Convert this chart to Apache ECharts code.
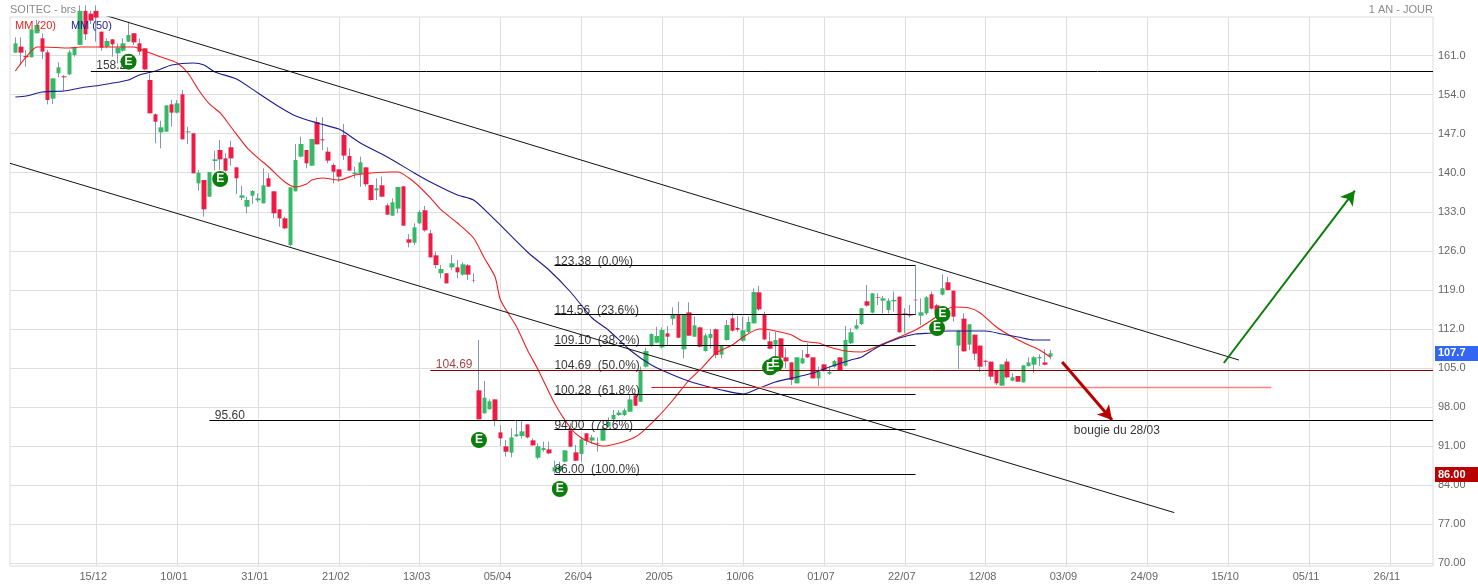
<!DOCTYPE html>
<html><head><meta charset="utf-8">
<style>html,body{margin:0;padding:0;background:#fff}#c{width:1478px;height:587px}</style>
<script src="https://cdn.jsdelivr.net/npm/echarts@6/dist/echarts.min.js"></script>
</head><body><div id="c"></div>
<script>
const tickLabels=['15/12','10/01','31/01','21/02','13/03','05/04','26/04','20/05','10/06','01/07','22/07','12/08','03/09','24/09','15/10','05/11','26/11'];
const yTicks=[70,77,84,91,98,105,112,119,126,133,140,147,154,161];
// trading-day candles, first one on slot 1: open, close, low, high
const ohlc=[
[161.51,163.18,161.51,164.26],[162.59,161.51,159.30,164.26],[160.91,160.68,159.0,161.99],[160.68,165.69,160.68,165.69],[164.98,166.47,164.98,167.37],
[164.08,161.69,160.32,164.98],[161.57,153.03,152.25,161.99],[153.27,156.91,152.31,156.91],[157.81,158.88,157.09,159.78],[157.27,157.09,154.70,157.51],
[157.63,161.57,157.51,161.99],[161.09,162.41,160.79,162.59],[162.89,169,162.89,170],[169,164.80,163.78,170],[168.5,167.25,166.65,169],
[169,167.8,163.48,170],[165.27,162.41,161.87,165.27],[162.59,163.6,162.29,164.08],[163.9,163.0,160.79,163.9],[161.39,162.41,159.6,163.18],
[161.87,163.18,161.69,164.08],[163.48,164.68,163.48,167.07],[164.98,163.36,162.89,164.98],[163.18,161.69,161.09,164.08],[162.29,158.52,158.4,162.29],
[156.61,150.64,150.64,157.69],[150.46,149.15,145.26,150.64],[147.23,148.13,144.37,149.32],[147.35,152.07,147.35,152.07],[152.25,150.76,148.25,153.03],
[150.76,152.43,150.64,153.03],[154.04,145.98,145.98,154.82],[147.23,147.41,145.14,148.25],[147.05,139.89,139.89,147.05],[138.09,140.0,136.78,140.48],
[138.69,133.43,132.12,138.69],[135.7,140.12,135.7,140.12],[142.1,142.39,140.48,143.95],[144.07,142.39,140.48,145.86],[142.57,140.36,140.18,143.47],
[144.55,142.57,141.26,145.74],[140.96,139.0,136.18,140.96],[135.52,135.94,135.11,137.67],[133.91,135.11,132.72,135.7],[135.88,136.72,134.39,136.9],
[135.05,135.4,134.69,136.3],[134.51,137.73,134.51,140.78],[139.0,137.5,137.5,139.89],[136.66,132.72,131.82,136.66],[133.43,131.82,130.33,133.43],
[131.82,130.03,129.91,132.12],[127.04,137.38,126.8,137.38],[136.66,142.28,136.66,145.14],[142.87,145.14,142.75,146.46],[144.07,141.68,140.78,144.07],
[141.26,146.04,141.26,146.04],[149.09,145.08,145.08,149.92],[145.98,145.8,144.07,149.92],[143.77,142.16,141.68,144.55],[141.38,140.18,138.09,141.68],
[140.6,139.29,138.39,140.6],[146.76,143.06,142.28,148.73],[143.0,140.37,140.37,144.37],[139.77,140.01,139.0,141.08],[139.77,141.86,137.5,142.88],
[140.96,137.92,137.5,140.96],[137.8,135.11,134.99,137.8],[136.84,137.2,135.11,139.0],[137.74,135.71,135.59,139.29],[134.15,132.48,132.48,134.51],
[132.3,134.69,132.3,135.41],[133.56,137.44,132.72,137.44],[137.56,130.51,130.51,137.56],[128.06,127.46,126.63,129.02],[127.46,130.21,127.05,130.93],
[130.93,132.96,130.81,133.32],[133.26,129.67,129.43,134.03],[129.14,124.83,124.83,129.73],[125.19,123.46,122.86,125.85],[121.97,122.74,121.07,123.46],
[121.97,120.17,120.17,121.97],[123.04,123.76,122.56,125.25],[123.04,122.15,121.07,124.36],[121.73,123.58,121.55,123.94],[123.4,121.73,120.77,123.64],
[120.74,120.68,120.29,121.97],[101.0,95.8,95.8,110.0],[96.87,99.68,96.87,102.67],[97.59,99.03,97.59,99.38],[99.38,95.5,94.6,99.38],
[93.47,92.39,91.02,94.78],[90.96,90.0,89.11,92.1],[89.83,92.57,88.99,94.19],[92.75,93.11,92.69,95.56],[92.81,93.65,92.39,95.56],
[94.9,92.57,92.39,94.9],[92.04,91.14,91.08,92.39],[88.93,90.96,88.63,91.5],[90.3,90.66,90.0,91.8],[90.42,89.71,89.53,91.8],
[86.48,87.2,86.12,88.39],[86.6,87.44,86.0,88.2],[88.21,90.24,88.09,90.3],[93.83,90.9,90.9,95.08],[89.89,88.39,88.33,91.2],
[89.59,92.22,88.21,92.69],[93.29,91.92,91.2,93.29],[91.98,92.57,91.5,92.99],[91.56,91.46,90.0,92.57],[91.98,94.13,91.98,94.49],
[94.49,95.32,94.37,96.16],[95.8,96.58,95.68,97.47],[96.58,97.0,96.4,97.47],[96.58,97.41,96.4,97.77],[97.17,99.38,97.17,100.34],
[100.1,98.25,98.19,100.46],[98.97,104.52,98.97,105.24],[105.24,108.04,105.12,108.64],[108.94,111.09,108.82,111.21],[109.54,110.73,109.42,112.4],
[108.7,111.81,108.52,112.28],[111.21,110.61,109.12,112.52],[113.84,114.5,112.7,115.87],[114.5,110.43,110.31,116.88],[108.34,114.61,106.73,114.61],
[114.97,110.79,110.79,116.77],[110.61,112.64,110.61,114.2],[112.28,108.82,108.7,112.4],[108.04,110.85,107.92,111.21],[110.37,111.09,108.52,111.93],
[111.93,107.33,106.73,112.1],[107.39,109.0,106.73,109.1],[110.01,112.7,109.9,113.6],[113.9,111.69,111.5,114.91],[112.17,111.87,111.51,114.32],
[109.9,111.75,109.72,114.2],[111.45,113.24,111.21,114.2],[113.0,118.62,113.0,119.27],[118.56,115.51,115.27,119.69],[114.5,110.13,110.01,115.09],
[109.78,108.46,108.34,111.51],[109.18,110.01,107.03,111.51],[110.31,106.85,106.73,110.31],[106.91,106.19,104.94,108.52],[106.01,102.85,101.95,106.01],
[102.25,106.91,102.25,106.91],[105.83,106.73,105.71,108.22],[107.51,106.91,106.8,109.42],[106.91,103.14,103.14,106.91],[103.14,104.34,101.77,105.24],
[105.65,104.52,104.34,105.65],[103.98,104.28,103.74,105.24],[105.24,106.25,105.06,106.43],[106.91,104.64,104.52,106.91],[105.4,110.02,105.24,112.53],
[109.43,111.4,109.3,112.11],[112.05,112.65,111.93,113.73],[112.89,115.7,112.7,115.7],[116.95,116.18,116.0,119.88],[114.92,118.39,114.8,118.39],
[117.66,117.56,116.3,118.39],[117.07,117.49,114.8,117.91],[115.4,117.07,114.8,117.49],[116.95,117.19,115.1,118.7],[117.79,111.4,111.34,117.79],
[114.85,114.75,111.2,115.7],[114.43,114.33,114.08,116.3],[117.24,117.14,114.5,123.3],[114.38,114.98,112.71,117.49],[114.8,117.67,114.5,117.9],
[118.21,115.64,115.5,118.7],[116.24,114.92,114.5,116.5],[118.15,119.28,118.0,121.79],[120.36,118.98,118.86,121.37],[118.86,114.2,113.31,118.86],
[109.01,111.7,104.82,111.7],[113.85,107.99,107.9,114.8],[109.19,112.83,108.2,112.83],[110.98,107.57,106.44,110.98],[109.01,105.24,104.35,109.01],
[106.3,106.1,105.4,106.5],[106.14,103.45,102.85,106.14],[104.53,102.26,101.96,104.53],[101.84,105.66,101.78,105.66],[106.14,103.33,103.15,106.68],
[102.73,103.33,102.61,104.05],[103.57,102.55,102.5,103.57],[102.44,105.48,102.38,105.48],[105.36,106.0,105.24,106.92],[105.6,106.92,104.17,107.15],
[106.74,106.98,105.36,107.45],[106.0,105.6,105.48,108.35],[107.04,107.63,106.56,108.23]
];
const ma20=[[1,158.23],[3,160.74],[5,162.53],[6,162.53],[11,162.35],[13,162.53],[17,162.53],[23,162.53],[25,161.81],[28,160.74],[31,159.66],[33,157.87],[35,154.82],[37,152.31],[39,150.7],[41,148.19],[44,144.43],[46,142.64],[48,141.02],[51,138.33],[53,137.44],[55,137.98],[56,138.69],[58,139.05],[61,138.69],[64,139.59],[67,139.95],[71,140.13],[72,140.13],[74,139.05],[76,137.44],[78,135.47],[80,133.32],[83,130.99],[86,128.3],[88,124.72],[90,121.31],[91,117.19],[94,112.35],[96,108.23],[98,104.65],[101,98.73],[104,94.25],[106,92.46],[109,91.2],[110,91.02],[116,92.64],[120,96.04],[123,99.27],[126,102.85],[128,104.65],[131,107.69],[134,109.12],[136,110.56],[139,112.0],[140,112.0],[142,111.64],[145,110.92],[147,109.84],[150,109.48],[152,108.77],[155,108.05],[158,107.87],[161,108.95],[165,110.56],[168,111.81],[171,113.6],[173,115.04],[175,115.93],[178,115.75],[180,114.86],[183,112.35],[186,110.56],[189,109.12],[191,108.23],[193,106.98]];
const ma50=[[1,153.57],[3,153.75],[6,154.47],[10,154.65],[13,155.18],[17,155.72],[22,156.61],[24,157.51],[27,158.23],[30,159.3],[34,159.66],[36,159.3],[38,158.05],[42,156.79],[46,154.28],[50,151.77],[53,150.16],[57,148.91],[61,147.83],[62,147.29],[65,145.32],[70,142.81],[75,139.95],[78,138.33],[83,136.0],[86,135.11],[90,131.53],[96,125.79],[100,122.56],[104,118.62],[108,113.96],[111,111.81],[115,108.23],[119,105.54],[123,103.75],[127,102.31],[132,101.07],[136,100.35],[139,101.42],[142,102.5],[146,103.39],[149,104.11],[152,105.18],[156,106.44],[158,106.98],[161,108.77],[165,110.38],[168,111.09],[171,111.27],[174,111.63],[181,111.63],[184,111.09],[187,110.56],[190,110.02],[193,110.02]];
const channelUpper=[[17,168.39],[228,106.43]];
const channelLower=[[0,141.68],[216,79.09]];
const fibLevels=[123.38,114.56,109.10,104.69,100.28,94.00,86.00];
const fibPercents=['0.0%','23.6%','38.2%','50.0%','61.8%','78.6%','100.0%'];
const fibSpan=[101,168];
const supportHigh=[15,264,158.2];
const supportLow=[37,264,95.6];
const supportMid=[78,264,104.69];
const redLineA=[119,139,101.54];
const redLineB=[139,234,101.54];
const arrowUp=[[225.2,105.9],[249.5,136.77]];
const arrowDown=[[195.2,106.08],[204.45,95.68]];
const earnings=[[22,159.9],[39,138.87],[87,92.1],[102,83.32],[141,105.13],[142,105.7],[173,114.68],[172,112.17]];
const noteText='bougie du 28/03';
const notePoint=[197,92.85];
const lastPrice=107.7, lowPrice=86.00;

const font='"Liberation Sans",Arial,sans-serif';
const N=265;
const yMin=69.52,yMax=167.9,gridTop=17,gridH=549;
const k=gridH/(yMax-yMin);
// draw a level on the centre of its pixel row so flat lines stay crisp
const crisp=v=>yMax-(Math.floor(gridTop+(yMax-v)*k+0.3)+0.5-gridTop)/k;
const flat=a=>[[a[0],crisp(a[2])],[a[1],crisp(a[2])]];
const categories=Array.from({length:N},(_,i)=>(i>=16&&(i-16)%15===0)?(tickLabels[(i-16)/15]||''):'');
const isTick=i=>i>=16&&(i-16)%15===0;
const offset=1;
const candleData=ohlc.map((r,i)=>[i+offset,r[0],r[1],r[2],r[3]]);
const bodyData=ohlc.map((r,i)=>[i+offset,r[0],r[1],Math.min(r[0],r[1]),Math.max(r[0],r[1])]);
const plain=(name,data,color,width,smooth)=>({type:'line',name,data,symbol:'none',silent:true,animation:false,z:4,smooth:smooth||false,lineStyle:{color,width:width||1}});
const noHalo={textBorderWidth:0,textBorderColor:'transparent',textShadowBlur:0};
const textLabel=(v,i,txt,color,dy)=>({value:[i,v],label:{show:true,formatter:txt,color:color||'#000',fontFamily:font,fontSize:12,position:[0,dy],align:'left',verticalAlign:'bottom',...noHalo}});
const annot=[
 textLabel(158.2,16,'158.20','#000',1),
 textLabel(95.6,38,'95.60','#000',1),
 textLabel(104.69,79,'104.69','#8b0f0f',1),
 ...fibLevels.map((v,j)=>textLabel(v,fibSpan[0],v.toFixed(2)+'  ('+fibPercents[j]+')','#000',2)),
 {value:notePoint,label:{show:true,formatter:noteText,color:'#000',fontFamily:font,fontSize:12,position:[2,1],align:'left',verticalAlign:'bottom',...noHalo}}
];
const series=[
 {type:'candlestick',name:'wicks',data:candleData,encode:{x:0,y:[1,2,3,4]},barWidth:1,silent:true,animation:false,z:2,
  itemStyle:{color:'#8397b3',color0:'#8397b3',borderColor:'#8397b3',borderColor0:'#8397b3',borderWidth:1}},
 {type:'candlestick',name:'bodies',data:bodyData,encode:{x:0,y:[1,2,3,4]},barWidth:5,silent:true,animation:false,z:3,
  itemStyle:{color:'#36b866',color0:'#ee1c44',borderColor:'#36b866',borderColor0:'#ee1c44',borderWidth:0}},
 plain('MM (20)',ma20,'#f01f1f',1.1,0.25),
 plain('MM (50)',ma50,'#1c1c8e',1.1,0.25),
 plain('cu',channelUpper,'#111',1),
 plain('cl',channelLower,'#111',1),
 ...fibLevels.map((v,j)=>plain('fib'+j,flat([fibSpan[0],fibSpan[1],v]),'#000',1)),
 plain('sh',flat(supportHigh),'#000',1),
 plain('sl',flat(supportLow),'#000',1),
 plain('sm',flat(supportMid),'#800000',1),
 plain('ra',flat(redLineA),'#ee1111',1),
 plain('rb',flat(redLineB),'#ff7f7f',1.6),
 {type:'line',name:'arrows',xAxisIndex:1,data:[],silent:true,animation:false,z:5,
  markLine:{silent:true,animation:false,symbol:['none','arrow'],symbolSize:[12,14],label:{show:false},
   data:[
    [{coord:arrowUp[0],lineStyle:{color:'#0a7d0a',width:2,type:'solid'}},{coord:arrowUp[1]}],
    [{coord:arrowDown[0],lineStyle:{color:'#b80000',width:3,type:'solid'}},{coord:arrowDown[1]}]
   ]}},
 {type:'scatter',name:'annot',data:annot,symbolSize:0,silent:true,animation:false,z:6},
 {type:'scatter',name:'E',data:earnings,symbol:'circle',symbolSize:16,silent:true,animation:false,z:7,
  itemStyle:{color:'#0a7d0a',opacity:1},
  label:{show:true,formatter:'E',position:'inside',color:'#fff',fontFamily:font,fontSize:12,fontWeight:'bold',...noHalo}},
 {type:'scatter',name:'tags',silent:true,animation:false,z:20,symbolSize:0,clip:false,
  data:[
   {value:[N-1,lastPrice],label:{show:true,formatter:lastPrice.toFixed(1),backgroundColor:'#3366f2',color:'#fff'}},
   {value:[N-1,lowPrice],label:{show:true,formatter:lowPrice.toFixed(2),backgroundColor:'#b80000',color:'#fff'}}
  ],
  label:{position:[2,-7],align:'left',verticalAlign:'top',fontFamily:font,fontSize:11,fontWeight:'bold',width:40,height:15,lineHeight:15,padding:[0,0,0,3],opacity:1,...noHalo}}
];
const chart=echarts.init(document.getElementById('c'),null,{renderer:'canvas'});
chart.setOption({
 animation:false,backgroundColor:'#fff',
 title:[
  {text:'SOITEC - brs',left:10,top:4,padding:0,textStyle:{color:'#8a8a8a',fontFamily:font,fontSize:11,fontWeight:'normal'}},
  {text:'1 AN - JOUR',right:45,top:4,padding:0,textStyle:{color:'#8a8a8a',fontFamily:font,fontSize:11,fontWeight:'normal'}}
 ],
 legend:{show:true,left:15,top:20,itemWidth:0,itemHeight:0,itemGap:15,padding:0,selectedMode:false,icon:'none',
  data:[{name:'MM (20)',textStyle:{color:'#f01f1f'}},{name:'MM (50)',textStyle:{color:'#1c1c8e'}}],
  textStyle:{fontFamily:font,fontSize:11,padding:[0,0,0,-5]}},
 grid:{left:10,top:gridTop,width:1423,height:gridH,show:true,borderColor:'#dcdcdc',borderWidth:1,backgroundColor:'#fff'},
 xAxis:[{type:'category',data:categories,boundaryGap:false,
  axisLine:{show:false},axisTick:{show:false},
  axisLabel:{interval:(i)=>isTick(i),color:'#666',fontFamily:font,fontSize:11,margin:5,padding:[0,6,0,0],hideOverlap:false},
  splitLine:{show:true,interval:(i)=>isTick(i),lineStyle:{color:'#dedede',width:1}}},
  {type:'value',min:0,max:N-1,show:false,splitLine:{show:false}}],
 yAxis:{type:'value',position:'right',min:yMin,max:yMax,scale:true,
  axisLine:{show:false},
  axisTick:{show:false,customValues:yTicks},
  axisLabel:{customValues:yTicks,color:'#666',fontFamily:font,fontSize:11,margin:5,padding:[0,0,3,0],formatter:v=>v>=100?v.toFixed(1):v.toFixed(2)},
  splitLine:{show:true,lineStyle:{color:'#dedede',width:1}}},
 series
});
</script></body></html>
